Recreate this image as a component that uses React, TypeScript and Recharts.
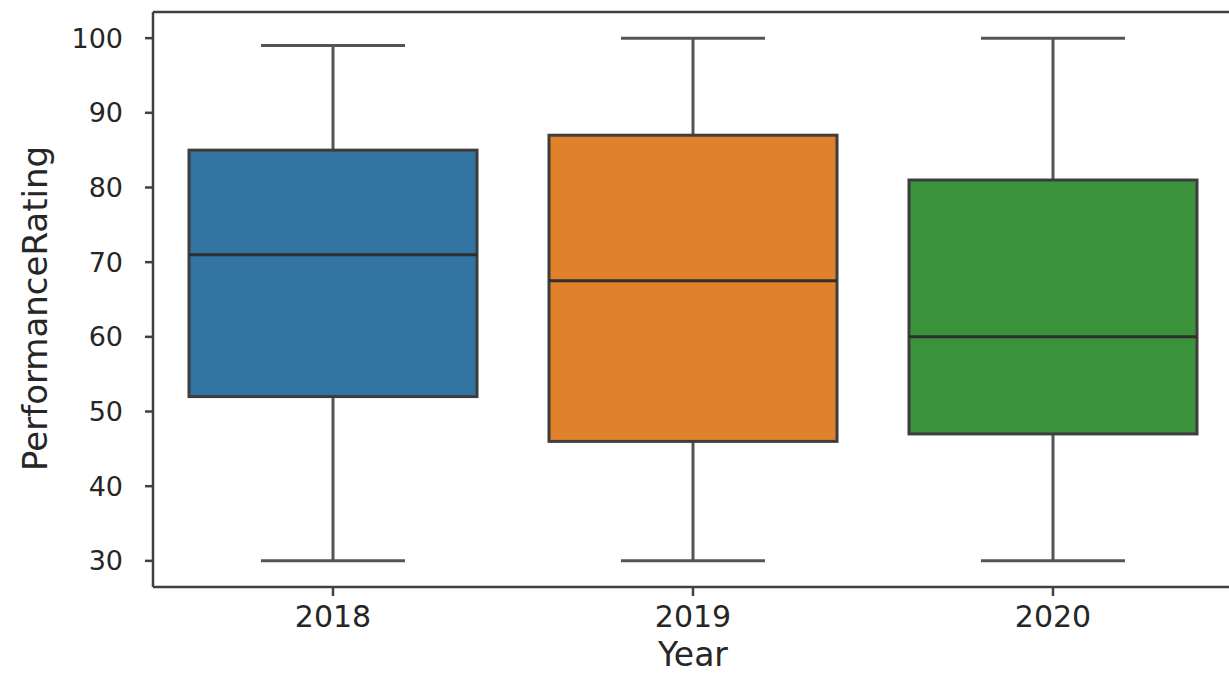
import React from "react";
import { ComposedChart, Bar, Cell, XAxis, YAxis, ReferenceLine } from "recharts";

// five-number summaries per year
const YEARS = ["2018", "2019", "2020"];
const MINS = [30, 30, 30];
const Q1S = [52, 46, 47];
const MEDIANS = [71, 67.5, 60];
const Q3S = [85, 87, 81];
const MAXES = [99, 100, 100];
const BOX_COLORS = ["#3274a1", "#e1812c", "#3a923a"];

const Y_TICKS = [30, 40, 50, 60, 70, 80, 90, 100];
const Y_DOMAIN: [number, number] = [26.5, 103.5];

const FONT = "'DejaVu Sans', sans-serif";
const AXIS_COLOR = "#404040";
const TEXT_COLOR = "#262626";

const data = YEARS.map((year, i) => ({
  year,
  min: MINS[i],
  q1: Q1S[i],
  median: MEDIANS[i],
  q3: Q3S[i],
  max: MAXES[i],
  range: [MINS[i], MAXES[i]],
}));

// draws whiskers, box and median inside the [min, max] range bar
function BoxShape(props: any) {
  const { x, y, width, height, payload, fill } = props;
  const { min, max, q1, median, q3 } = payload;
  const py = (v: number) => y + ((max - v) / (max - min)) * height;
  const cx = x + width / 2;
  const capHalf = width / 4;
  const line = "#555555";
  const edge = "#3d3d3d";
  return (
    <g>
      <line x1={cx} x2={cx} y1={py(max)} y2={py(q3)} stroke={line} strokeWidth={3} />
      <line x1={cx} x2={cx} y1={py(q1)} y2={py(min)} stroke={line} strokeWidth={3} />
      <line x1={cx - capHalf} x2={cx + capHalf} y1={py(max)} y2={py(max)} stroke={line} strokeWidth={3} />
      <line x1={cx - capHalf} x2={cx + capHalf} y1={py(min)} y2={py(min)} stroke={line} strokeWidth={3} />
      <rect x={x} y={py(q3)} width={width} height={py(q1) - py(q3)} fill={fill} stroke={edge} strokeWidth={3} />
      <line x1={x} x2={x + width} y1={py(median)} y2={py(median)} stroke="#2f2f2f" strokeWidth={3} />
    </g>
  );
}

function YLabel(props: any) {
  const vb = props.viewBox || {};
  const cy = (vb.y ?? 12) + (vb.height ?? 575) / 2 + 9;
  const cx = 35;
  return (
    <text
      x={cx}
      y={cy}
      transform={`rotate(-90 ${cx} ${cy})`}
      textAnchor="middle"
      dominantBaseline="central"
      fontFamily={FONT}
      fontSize={34}
      fill={TEXT_COLOR}
    >
      PerformanceRating
    </text>
  );
}

export default function App() {
  return (
    <div style={{ position: "absolute", left: 0, top: 0, background: "#fff" }}>
      <ComposedChart
        width={1229}
        height={673}
        data={data}
        margin={{ top: 12, right: -4, bottom: 0, left: 0 }}
        barCategoryGap="10%"
      >
        <XAxis
          dataKey="year"
          type="category"
          height={86}
          tickSize={9}
          tickMargin={10}
          axisLine={{ stroke: AXIS_COLOR, strokeWidth: 2.5 }}
          tickLine={{ stroke: AXIS_COLOR, strokeWidth: 2.5 }}
          tick={{ fill: TEXT_COLOR, fontSize: 30, fontFamily: FONT }}
          label={{
            value: "Year",
            position: "insideBottom",
            offset: 7,
            fill: TEXT_COLOR,
            fontSize: 33,
            fontFamily: FONT,
          }}
        />
        <YAxis
          type="number"
          domain={Y_DOMAIN}
          ticks={Y_TICKS}
          allowDataOverflow
          width={153}
          tickSize={8}
          tickMargin={22}
          axisLine={{ stroke: AXIS_COLOR, strokeWidth: 2.5 }}
          tickLine={{ stroke: AXIS_COLOR, strokeWidth: 2.5 }}
          tick={{ fill: TEXT_COLOR, fontSize: 27, fontFamily: FONT }}
          label={<YLabel />}
        />
        <ReferenceLine y={Y_DOMAIN[1]} stroke={AXIS_COLOR} strokeWidth={2.5} ifOverflow="extendDomain" />
        <Bar dataKey="range" shape={<BoxShape />} isAnimationActive={false}>
          {data.map((d, i) => (
            <Cell key={d.year} fill={BOX_COLORS[i]} />
          ))}
        </Bar>
      </ComposedChart>
    </div>
  );
}
